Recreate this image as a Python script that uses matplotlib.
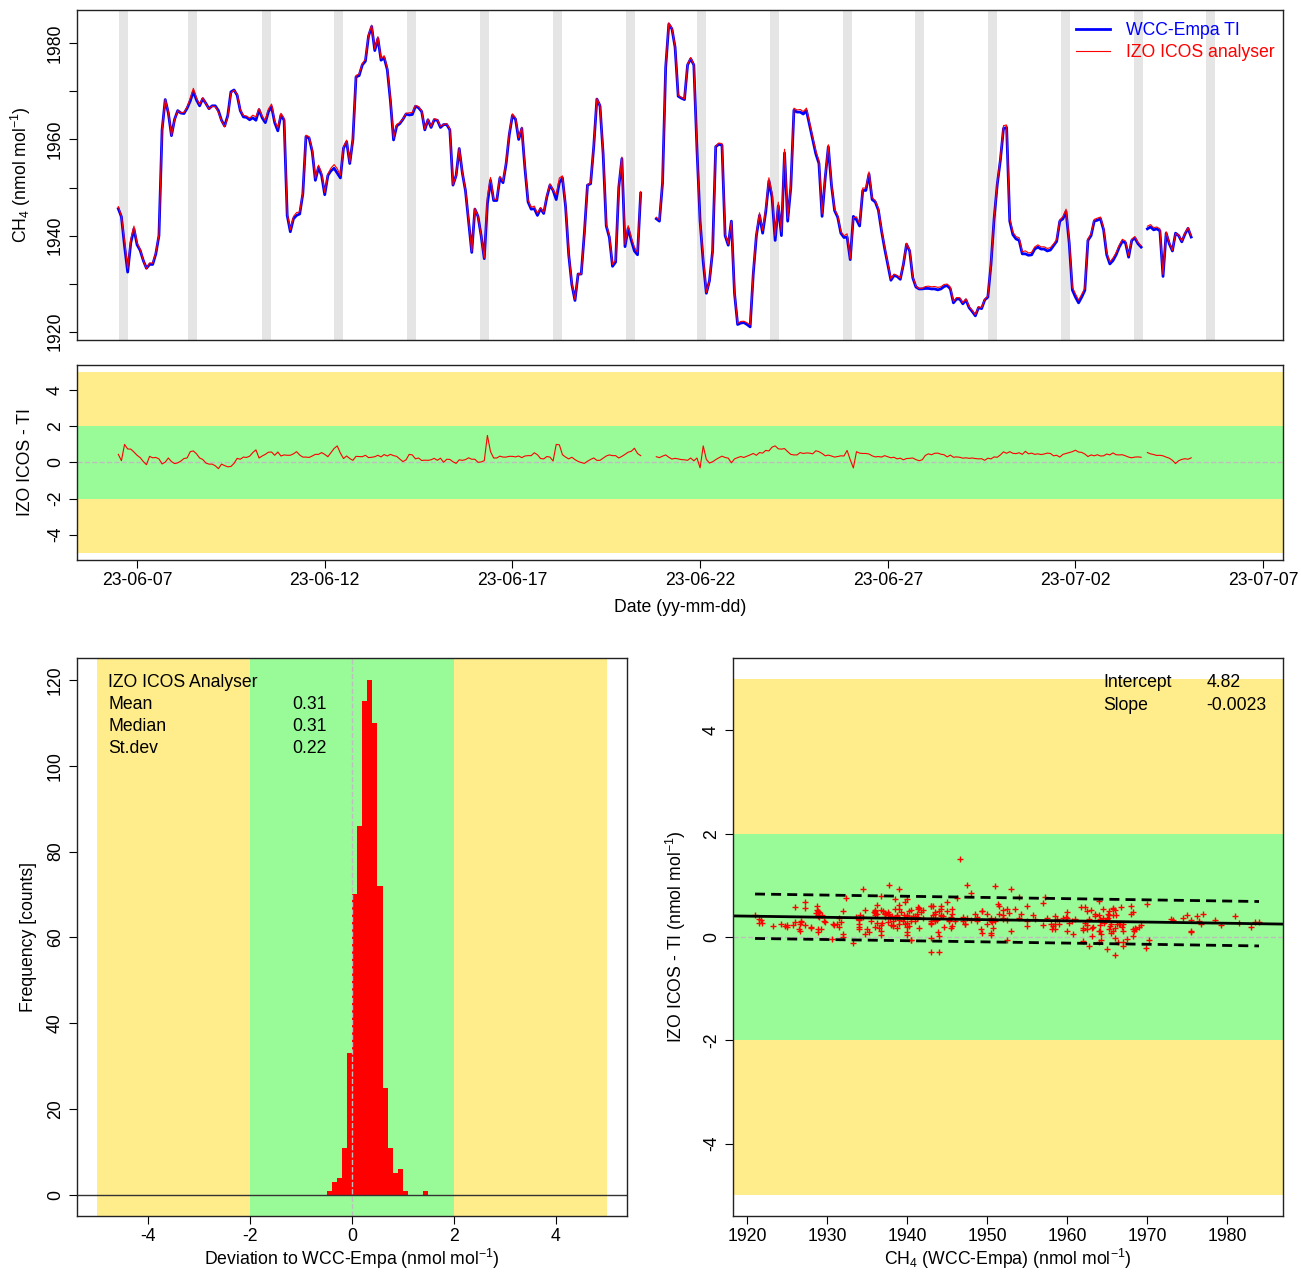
import numpy as np
import pandas as pd
import matplotlib
matplotlib.use('Agg')
import matplotlib.pyplot as plt
import matplotlib.dates as mdates
from datetime import datetime

plt.rcParams['font.family'] = 'Liberation Sans'
plt.rcParams['mathtext.fontset'] = 'custom'
plt.rcParams['mathtext.rm'] = 'Liberation Sans'
plt.rcParams['mathtext.it'] = 'Liberation Sans:italic'
plt.rcParams['font.size'] = 12.7
plt.rcParams['axes.unicode_minus'] = False

nan = np.nan

# CH4 of the travelling instrument (WCC-Empa TI), 2-hourly
ti = [
    1945.6, 1943.9, 1937.8, 1932.4, 1938.5, 1941.4, 1938.1, 1936.9, 1934.8, 1933.2,
    1934.0, 1934.0, 1936.2, 1940.0, 1962.0, 1968.3, 1965.5, 1960.8, 1964.2, 1966.0,
    1965.5, 1965.4, 1966.5, 1968.0, 1970.0, 1968.2, 1967.0, 1968.5, 1967.5, 1966.4,
    1967.0, 1967.0, 1966.0, 1964.0, 1962.8, 1965.0, 1969.9, 1970.3, 1969.2, 1966.0,
    1964.7, 1964.6, 1964.1, 1964.5, 1964.0, 1966.2, 1964.5, 1963.5, 1965.8, 1966.8,
    1963.5, 1961.8, 1965.1, 1964.0, 1944.2, 1940.8, 1943.5, 1944.2, 1944.5, 1948.7,
    1960.6, 1960.3, 1957.5, 1951.5, 1954.2, 1952.5, 1948.5, 1952.5, 1953.5, 1954.0,
    1953.0, 1952.0, 1958.2, 1959.5, 1955.0, 1960.0, 1973.0, 1973.3, 1975.5, 1976.3,
    1981.5, 1983.5, 1978.5, 1981.0, 1976.5, 1977.0, 1974.5, 1968.0, 1959.9, 1962.8,
    1963.3, 1964.2, 1965.3, 1965.1, 1965.2, 1966.9, 1966.6, 1965.8, 1962.0, 1964.1,
    1962.5, 1964.1, 1964.0, 1962.5, 1963.1, 1963.1, 1962.0, 1950.5, 1952.5, 1958.1,
    1953.0, 1949.3, 1943.0, 1936.5, 1945.5, 1944.0, 1940.0, 1935.2, 1946.6, 1951.5,
    1947.3, 1947.3, 1952.0, 1951.0, 1955.0, 1961.0, 1965.0, 1964.2, 1960.0, 1962.3,
    1954.0, 1947.0, 1945.5, 1945.6, 1944.2, 1945.6, 1944.6, 1948.0, 1950.5, 1949.4,
    1947.5, 1951.0, 1952.0, 1946.0, 1936.0, 1929.8, 1926.5, 1932.0, 1932.0, 1940.5,
    1950.5, 1950.8, 1958.5, 1968.4, 1967.0, 1957.0, 1942.0, 1939.6, 1933.6, 1934.5,
    1950.0, 1956.0, 1937.7, 1941.5, 1939.0, 1936.8, 1936.0, 1948.8, nan, nan,
    nan, nan, 1943.5, 1943.0, 1951.0, 1975.0, 1984.0, 1983.0, 1979.2, 1969.0,
    1968.6, 1968.3, 1975.5, 1976.8, 1975.5, 1958.0, 1943.0, 1934.5, 1928.0, 1930.6,
    1936.8, 1958.5, 1959.0, 1958.8, 1940.0, 1938.0, 1943.0, 1928.0, 1921.5, 1921.8,
    1921.9, 1921.5, 1921.0, 1932.0, 1940.0, 1944.2, 1940.5, 1945.0, 1951.4, 1948.0,
    1939.0, 1946.2, 1940.0, 1957.2, 1943.0, 1950.0, 1966.1, 1965.7, 1965.7, 1965.3,
    1966.0, 1963.0, 1960.0, 1957.0, 1955.0, 1944.0, 1952.0, 1958.5, 1950.5, 1945.2,
    1943.8, 1940.5, 1939.6, 1939.7, 1935.0, 1944.0, 1943.3, 1942.0, 1949.4, 1949.4,
    1952.8, 1947.5, 1947.0, 1945.3, 1941.0, 1937.3, 1934.0, 1930.7, 1931.7, 1931.5,
    1930.9, 1934.0, 1938.2, 1936.8, 1931.2, 1929.3, 1928.9, 1928.9, 1929.0, 1929.0,
    1928.9, 1928.9, 1928.7, 1928.9, 1929.4, 1929.6, 1928.9, 1926.0, 1926.8, 1926.8,
    1925.8, 1926.6, 1925.0, 1924.2, 1923.3, 1925.0, 1924.8, 1926.6, 1927.2, 1934.0,
    1943.5, 1950.6, 1955.7, 1962.3, 1962.5, 1943.0, 1940.2, 1939.3, 1939.0, 1936.2,
    1936.2, 1935.9, 1936.0, 1937.2, 1937.6, 1937.2, 1937.2, 1936.8, 1937.0, 1937.9,
    1938.8, 1943.0, 1943.5, 1945.0, 1938.5, 1928.7, 1927.2, 1926.0, 1927.2, 1928.6,
    1939.0, 1940.0, 1943.0, 1943.2, 1943.5, 1941.2, 1936.0, 1934.1, 1934.8, 1936.0,
    1937.6, 1938.8, 1938.5, 1935.5, 1939.0, 1939.5, 1938.3, 1937.6, nan, 1941.4,
    1941.8, 1941.2, 1941.4, 1941.0, 1931.5, 1940.5, 1938.3, 1936.8, 1940.5, 1940.0,
    1938.7, 1940.3, 1941.5, 1939.7,
]

# IZO ICOS minus TI, same time steps
diff = [
    0.45, 0.10, 1.00, 0.75, 0.74, 0.58, 0.40, 0.27, 0.05, -0.12,
    0.34, 0.26, 0.28, 0.20, -0.08, 0.02, 0.25, 0.05, -0.06, -0.02,
    0.08, 0.22, 0.25, 0.60, 0.64, 0.48, 0.25, 0.17, -0.03, -0.09,
    -0.09, -0.18, -0.34, -0.09, -0.17, -0.24, -0.22, -0.05, 0.23, 0.18,
    0.30, 0.28, 0.35, 0.55, 0.70, 0.25, 0.36, 0.45, 0.57, 0.58,
    0.40, 0.58, 0.36, 0.42, 0.40, 0.40, 0.48, 0.60, 0.41, 0.30,
    0.30, 0.28, 0.36, 0.45, 0.45, 0.55, 0.45, 0.32, 0.55, 0.78,
    0.92, 0.52, 0.22, 0.36, 0.22, 0.12, 0.34, 0.33, 0.32, 0.40,
    0.27, 0.29, 0.32, 0.40, 0.31, 0.44, 0.36, 0.45, 0.38, 0.34,
    0.19, 0.05, 0.15, 0.45, 0.42, 0.20, 0.25, 0.11, 0.13, 0.12,
    0.15, 0.23, 0.12, 0.24, 0.01, 0.18, 0.17, 0.04, -0.05, 0.15,
    0.12, 0.16, 0.26, 0.18, 0.18, 0.01, 0.03, 0.10, 1.50, 0.60,
    0.25, 0.25, 0.35, 0.30, 0.30, 0.34, 0.34, 0.31, 0.36, 0.27,
    0.36, 0.38, 0.38, 0.54, 0.43, 0.22, 0.20, 0.33, 0.30, 0.08,
    1.00, 0.98, 0.43, 0.30, 0.20, 0.29, 0.16, 0.06, 0.00, -0.05,
    0.07, 0.17, 0.25, 0.12, 0.12, 0.24, 0.36, 0.42, 0.38, 0.38,
    0.25, 0.34, 0.45, 0.57, 0.62, 0.79, 0.50, 0.38, nan, nan,
    nan, nan, 0.32, 0.27, 0.35, 0.42, 0.29, 0.19, 0.23, 0.20,
    0.16, 0.15, 0.12, 0.25, 0.09, 0.25, -0.30, 0.92, 0.17, -0.03,
    0.04, 0.16, 0.26, 0.35, 0.28, 0.24, -0.02, 0.20, 0.27, 0.33,
    0.28, 0.35, 0.42, 0.50, 0.40, 0.55, 0.52, 0.67, 0.64, 0.85,
    0.92, 0.76, 0.74, 0.77, 0.60, 0.45, 0.42, 0.42, 0.55, 0.50,
    0.53, 0.52, 0.48, 0.65, 0.60, 0.50, 0.37, 0.41, 0.36, 0.30,
    0.33, 0.37, 0.36, 0.67, 0.15, -0.30, 0.60, 0.52, 0.50, 0.50,
    0.47, 0.37, 0.31, 0.33, 0.30, 0.38, 0.32, 0.26, 0.29, 0.20,
    0.24, 0.15, 0.22, 0.23, 0.25, 0.16, 0.10, 0.15, 0.39, 0.48,
    0.43, 0.51, 0.52, 0.46, 0.43, 0.31, 0.41, 0.29, 0.31, 0.29,
    0.24, 0.26, 0.23, 0.25, 0.22, 0.20, 0.21, 0.12, 0.24, 0.20,
    0.31, 0.29, 0.42, 0.59, 0.51, 0.60, 0.51, 0.49, 0.54, 0.45,
    0.62, 0.48, 0.52, 0.45, 0.48, 0.44, 0.47, 0.52, 0.50, 0.37,
    0.40, 0.30, 0.45, 0.50, 0.55, 0.60, 0.68, 0.58, 0.56, 0.47,
    0.33, 0.42, 0.37, 0.43, 0.36, 0.37, 0.47, 0.42, 0.53, 0.43,
    0.42, 0.43, 0.37, 0.30, 0.26, 0.30, 0.31, 0.29, nan, 0.55,
    0.48, 0.44, 0.39, 0.40, 0.37, 0.30, 0.24, 0.12, -0.06, 0.10,
    0.17, 0.21, 0.18, 0.26,
]

start_time = datetime(2023, 6, 6, 12)
# centres of the grey bands, in days of June
band_days = [6.63, 8.49, 10.45, 12.37, 14.31, 16.26, 18.19, 20.14,
             22.05, 23.99, 25.93, 27.84, 29.80, 31.73, 33.68, 35.60]

hist_edges = [-0.5, -0.4, -0.3, -0.2, -0.1, 0.0, 0.1, 0.2, 0.3, 0.4, 0.5,
              0.6, 0.7, 0.8, 0.9, 1.0, 1.1, 1.2, 1.3, 1.4, 1.5]
hist_counts = [1, 3, 4, 11, 33, 70, 86, 115, 120, 110,
               72, 25, 11, 5, 6, 1, 0, 0, 0, 1]

stat_names = ['Mean', 'Median', 'St.dev']
stat_values = ['0.31', '0.31', '0.22']
fit_intercept = 4.82
fit_slope = -0.0023
pred_half = 0.43

YELLOW = '#FFEC8B'
GREEN = '#98FB98'
BAND = '#E5E5E5'
ZERO = '#BEBEBE'

ti = np.array(ti, dtype=float)
diff = np.array(diff, dtype=float)
icos = ti + diff
times = pd.date_range(start_time, periods=len(ti), freq='2h')
t = mdates.date2num(times.to_pydatetime())
june0 = mdates.date2num(datetime(2023, 6, 1)) - 1

fig = plt.figure(figsize=(13.01, 12.72), dpi=100)
ax1 = fig.add_axes([0.05919, 0.73270, 0.92698, 0.25943])
ax2 = fig.add_axes([0.05919, 0.55975, 0.92698, 0.15330])
ax3 = fig.add_axes([0.05919, 0.04403, 0.42275, 0.43868])
ax4 = fig.add_axes([0.56341, 0.04403, 0.42275, 0.43868])

xlim = (mdates.date2num(datetime(2023, 6, 5, 9, 36)),
        mdates.date2num(datetime(2023, 7, 7, 12, 43)))

# --- top: time series
for d in band_days:
    ax1.axvspan(june0 + d - 0.12, june0 + d + 0.12, color=BAND, lw=0)
ax1.plot(t, ti, color='blue', lw=2.0, label='WCC-Empa TI')
ax1.plot(t, icos, color='red', lw=0.8, label='IZO ICOS analyser')
ax1.set_xlim(xlim)
ax1.set_ylim(1918.27, 1986.94)
ax1.set_yticks([1920, 1930, 1940, 1950, 1960, 1970, 1980],
               ['1920', '', '1940', '', '1960', '', '1980'])
ax1.tick_params(axis='x', bottom=False, labelbottom=False)
ax1.set_ylabel('CH$_4$ (nmol mol$^{-1}$)')
ax1.yaxis.set_label_coords(-0.0365, 0.5)
ax1.legend(loc='upper right', bbox_to_anchor=(1.0, 0.99), frameon=False,
           handlelength=1.9, handletextpad=0.9, labelspacing=0.3, borderpad=0.2,
           borderaxespad=0.3, labelcolor='linecolor')

# --- second: difference
ax2.axhspan(-5, 5, color=YELLOW, lw=0)
ax2.axhspan(-2, 2, color=GREEN, lw=0)
ax2.axhline(0, color=ZERO, ls='--', lw=1)
ax2.plot(t, diff, color='red', lw=0.8)
ax2.set_xlim(xlim)
ax2.set_ylim(-5.4, 5.4)
ax2.set_yticks([-4, -2, 0, 2, 4])
ax2.set_xticks([mdates.date2num(datetime(2023, 6, 7)) + 5 * i for i in range(7)])
ax2.xaxis.set_major_formatter(mdates.DateFormatter('%y-%m-%d'))
ax2.set_ylabel('IZO ICOS - TI')
ax2.yaxis.set_label_coords(-0.036, 0.5)
ax2.set_xlabel('Date (yy-mm-dd)')
ax2.xaxis.set_label_coords(0.5, -0.2)

# --- histogram
ax3.axvspan(-5, 5, color=YELLOW, lw=0)
ax3.axvspan(-2, 2, color=GREEN, lw=0)
ax3.stairs(hist_counts, hist_edges, fill=True, color='red')
ax3.axvline(0, color=ZERO, ls='--', lw=1)
ax3.axhline(0, color='#333333', lw=1)
ax3.set_xlim(-5.4, 5.4)
ax3.set_ylim(-4.9, 125.1)
ax3.set_xticks([-4, -2, 0, 2, 4])
ax3.set_yticks([0, 20, 40, 60, 80, 100, 120])
ax3.text(-4.79, 119.3, 'IZO ICOS Analyser', va='center')
for i, (n, v) in enumerate(zip(stat_names, stat_values)):
    ax3.text(-4.79, 114.2 - 5.15 * i, n, va='center')
    ax3.text(-1.18, 114.2 - 5.15 * i, v, va='center')
ax3.set_xlabel('Deviation to WCC-Empa (nmol mol$^{-1}$)')
ax3.xaxis.set_label_coords(0.5, -0.056)
ax3.set_ylabel('Frequency [counts]')
ax3.yaxis.set_label_coords(-0.0736, 0.5)

# --- scatter
ax4.axhspan(-5, 5, color=YELLOW, lw=0)
ax4.axhspan(-2, 2, color=GREEN, lw=0)
ax4.axhline(0, color=ZERO, ls='--', lw=1)
ax4.plot(ti, diff, '+', color='red', ms=4.5, mew=1.0)
ax4.set_xlim(1918.25, 1987.0)
xs = np.array(ax4.get_xlim())
ax4.plot(xs, fit_intercept + fit_slope * xs, color='black', lw=2)
xr = np.array([np.nanmin(ti), np.nanmax(ti)])
for s in (1, -1):
    ax4.plot(xr, fit_intercept + fit_slope * xr + s * pred_half, color='black',
             lw=2, ls=(0, (3.6, 2.2)))
ax4.set_ylim(-5.4, 5.4)
ax4.set_xticks([1920, 1930, 1940, 1950, 1960, 1970, 1980])
ax4.set_yticks([-4, -2, 0, 2, 4])
ax4.text(1964.5, 4.92, 'Intercept', va='center')
ax4.text(1977.4, 4.92, f'{fit_intercept:.2f}', va='center')
ax4.text(1964.5, 4.49, 'Slope', va='center')
ax4.text(1977.4, 4.49, f'{fit_slope:.4f}', va='center')
ax4.set_xlabel('CH$_4$ (WCC-Empa) (nmol mol$^{-1}$)')
ax4.xaxis.set_label_coords(0.5, -0.056)
ax4.set_ylabel('IZO ICOS - TI (nmol mol$^{-1}$)')
ax4.yaxis.set_label_coords(-0.082, 0.5)

for ax in (ax1, ax2, ax3, ax4):
    ax.tick_params(direction='out', length=5.5, width=0.8, pad=3.5)
    ax.tick_params(axis='y', labelrotation=90, pad=4)
    plt.setp(ax.get_yticklabels(), va='center')
    for sp in ax.spines.values():
        sp.set_linewidth(1)
        sp.set_color('#222222')

fig.savefig('out.png', dpi=100)
